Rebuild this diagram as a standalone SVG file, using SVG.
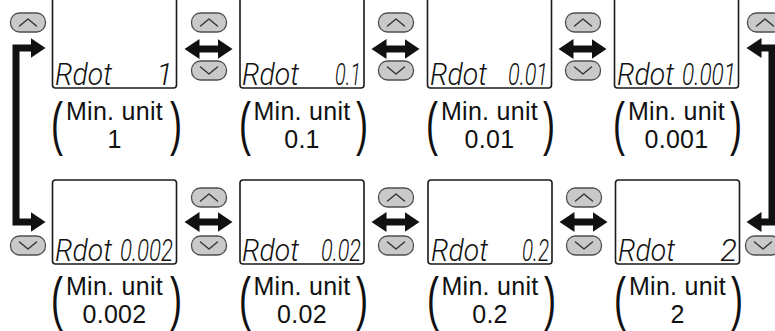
<svg xmlns="http://www.w3.org/2000/svg" width="775" height="331" viewBox="0 0 775 331">
<style>
.lcd{fill:#fff;stroke:#1a1a1a;stroke-width:1.6}
.btn{fill:#c9c9c9;stroke:#4d4d4d;stroke-width:1.3}
.chev{fill:none;stroke:#333;stroke-width:1.4;stroke-linecap:round;stroke-linejoin:round}
.seg{font-family:Roboto,"DejaVu Sans",sans-serif;font-weight:300;font-style:italic;font-size:31px;fill:#111}
.lbl{font-family:"Liberation Sans",Arial,sans-serif;font-size:25px;letter-spacing:0.3px;fill:#111;text-anchor:middle}
.par{font-family:"Liberation Sans",Arial,sans-serif;font-size:60px;fill:#111;text-anchor:middle}
.conn{fill:none;stroke:#111;stroke-width:7;stroke-linejoin:miter}
</style>
<defs>
<marker id="ah" markerUnits="userSpaceOnUse" markerWidth="16" markerHeight="22" viewBox="0 -11 16 22" refX="0.5" refY="0" orient="auto-start-reverse">
<path d="M0,-10 L15,0 L0,10 z" fill="#111"/>
</marker>
<g id="up"><rect x="-17.5" y="0" width="35" height="19" rx="9" class="btn"/><polyline points="-8.5,13 0,6 8.5,13" class="chev"/></g>
<g id="dn"><rect x="-17.5" y="0" width="35" height="19" rx="9" class="btn"/><polyline points="-8.5,6 0,13 8.5,6" class="chev"/></g>
</defs>

<g id="buttons">
<use href="#up" x="28" y="13"/>
<use href="#up" x="209" y="13"/><use href="#dn" x="209" y="61"/>
<use href="#up" x="396" y="13"/><use href="#dn" x="396" y="61"/>
<use href="#up" x="583" y="13"/><use href="#dn" x="583" y="61"/>
<use href="#up" x="765" y="13"/>
<use href="#dn" x="28" y="236"/>
<use href="#up" x="209" y="188"/><use href="#dn" x="209" y="236"/>
<use href="#up" x="396" y="188"/><use href="#dn" x="396" y="236"/>
<use href="#up" x="584" y="188"/><use href="#dn" x="584" y="236"/>
<use href="#dn" x="763" y="236"/>
</g>

<g id="connectors">
<path class="conn" d="M31,222 H16 V48 H31" marker-start="url(#ah)" marker-end="url(#ah)"/>
<path class="conn" d="M761,48 H772 V222 H761" marker-start="url(#ah)" marker-end="url(#ah)"/>
<path class="conn" d="M199,49 H218" marker-start="url(#ah)" marker-end="url(#ah)"/>
<path class="conn" d="M386,49 H405" marker-start="url(#ah)" marker-end="url(#ah)"/>
<path class="conn" d="M573,49 H592" marker-start="url(#ah)" marker-end="url(#ah)"/>
<path class="conn" d="M199,222 H218" marker-start="url(#ah)" marker-end="url(#ah)"/>
<path class="conn" d="M386,222 H405" marker-start="url(#ah)" marker-end="url(#ah)"/>
<path class="conn" d="M574,222 H593" marker-start="url(#ah)" marker-end="url(#ah)"/>
</g>

<g id="n1">
<rect class="lcd" x="52.5" y="-10" width="124" height="98" rx="3"/>
<text class="seg" x="55" y="85" textLength="57" lengthAdjust="spacingAndGlyphs">Rdot</text>
<text class="seg" x="173" y="85" text-anchor="end">1</text>
<text class="par" transform="translate(57,144) scale(0.6,1)">(</text><text class="par" transform="translate(176,144) scale(0.6,1)">)</text>
<text class="lbl" x="114.5" y="120">Min. unit</text>
<text class="lbl" x="114.5" y="148">1</text>
</g>
<g id="n2">
<rect class="lcd" x="240" y="-10" width="124" height="98" rx="3"/>
<text class="seg" x="242" y="85" textLength="57" lengthAdjust="spacingAndGlyphs">Rdot</text>
<text class="seg" x="361" y="85" text-anchor="end" textLength="26" lengthAdjust="spacingAndGlyphs">0.1</text>
<text class="par" transform="translate(245,144) scale(0.6,1)">(</text><text class="par" transform="translate(362,144) scale(0.6,1)">)</text>
<text class="lbl" x="302" y="120">Min. unit</text>
<text class="lbl" x="302" y="148">0.1</text>
</g>
<g id="n3">
<rect class="lcd" x="427.5" y="-10" width="124" height="98" rx="3"/>
<text class="seg" x="430" y="85" textLength="57" lengthAdjust="spacingAndGlyphs">Rdot</text>
<text class="seg" x="548" y="85" text-anchor="end" textLength="40" lengthAdjust="spacingAndGlyphs">0.01</text>
<text class="par" transform="translate(432,144) scale(0.6,1)">(</text><text class="par" transform="translate(549,144) scale(0.6,1)">)</text>
<text class="lbl" x="489.5" y="120">Min. unit</text>
<text class="lbl" x="489.5" y="148">0.01</text>
</g>
<g id="n4">
<rect class="lcd" x="614.5" y="-10" width="124" height="98" rx="3"/>
<text class="seg" x="617" y="85" textLength="57" lengthAdjust="spacingAndGlyphs">Rdot</text>
<text class="seg" x="736" y="85" text-anchor="end" textLength="54" lengthAdjust="spacingAndGlyphs">0.001</text>
<text class="par" transform="translate(619,144) scale(0.6,1)">(</text><text class="par" transform="translate(736,144) scale(0.6,1)">)</text>
<text class="lbl" x="676.5" y="120">Min. unit</text>
<text class="lbl" x="676.5" y="148">0.001</text>
</g>

<g id="n5">
<rect class="lcd" x="52.5" y="180" width="124" height="84" rx="3"/>
<text class="seg" x="55" y="261" textLength="57" lengthAdjust="spacingAndGlyphs">Rdot</text>
<text class="seg" x="173" y="261" text-anchor="end" textLength="53" lengthAdjust="spacingAndGlyphs">0.002</text>
<text class="par" transform="translate(57,319) scale(0.6,1)">(</text><text class="par" transform="translate(176,319) scale(0.6,1)">)</text>
<text class="lbl" x="114.5" y="295">Min. unit</text>
<text class="lbl" x="114.5" y="323">0.002</text>
</g>
<g id="n6">
<rect class="lcd" x="240" y="180" width="124" height="84" rx="3"/>
<text class="seg" x="242" y="261" textLength="57" lengthAdjust="spacingAndGlyphs">Rdot</text>
<text class="seg" x="361" y="261" text-anchor="end" textLength="40" lengthAdjust="spacingAndGlyphs">0.02</text>
<text class="par" transform="translate(245,319) scale(0.6,1)">(</text><text class="par" transform="translate(362,319) scale(0.6,1)">)</text>
<text class="lbl" x="302" y="295">Min. unit</text>
<text class="lbl" x="302" y="323">0.02</text>
</g>
<g id="n7">
<rect class="lcd" x="428" y="180" width="124" height="84" rx="3"/>
<text class="seg" x="431" y="261" textLength="57" lengthAdjust="spacingAndGlyphs">Rdot</text>
<text class="seg" x="549" y="261" text-anchor="end" textLength="27" lengthAdjust="spacingAndGlyphs">0.2</text>
<text class="par" transform="translate(433,319) scale(0.6,1)">(</text><text class="par" transform="translate(550,319) scale(0.6,1)">)</text>
<text class="lbl" x="490" y="295">Min. unit</text>
<text class="lbl" x="490" y="323">0.2</text>
</g>
<g id="n8">
<rect class="lcd" x="615.5" y="180" width="124" height="84" rx="3"/>
<text class="seg" x="618" y="261" textLength="57" lengthAdjust="spacingAndGlyphs">Rdot</text>
<text class="seg" x="737" y="261" text-anchor="end">2</text>
<text class="par" transform="translate(620,319) scale(0.6,1)">(</text><text class="par" transform="translate(737,319) scale(0.6,1)">)</text>
<text class="lbl" x="677.5" y="295">Min. unit</text>
<text class="lbl" x="677.5" y="323">2</text>
</g>
</svg>
